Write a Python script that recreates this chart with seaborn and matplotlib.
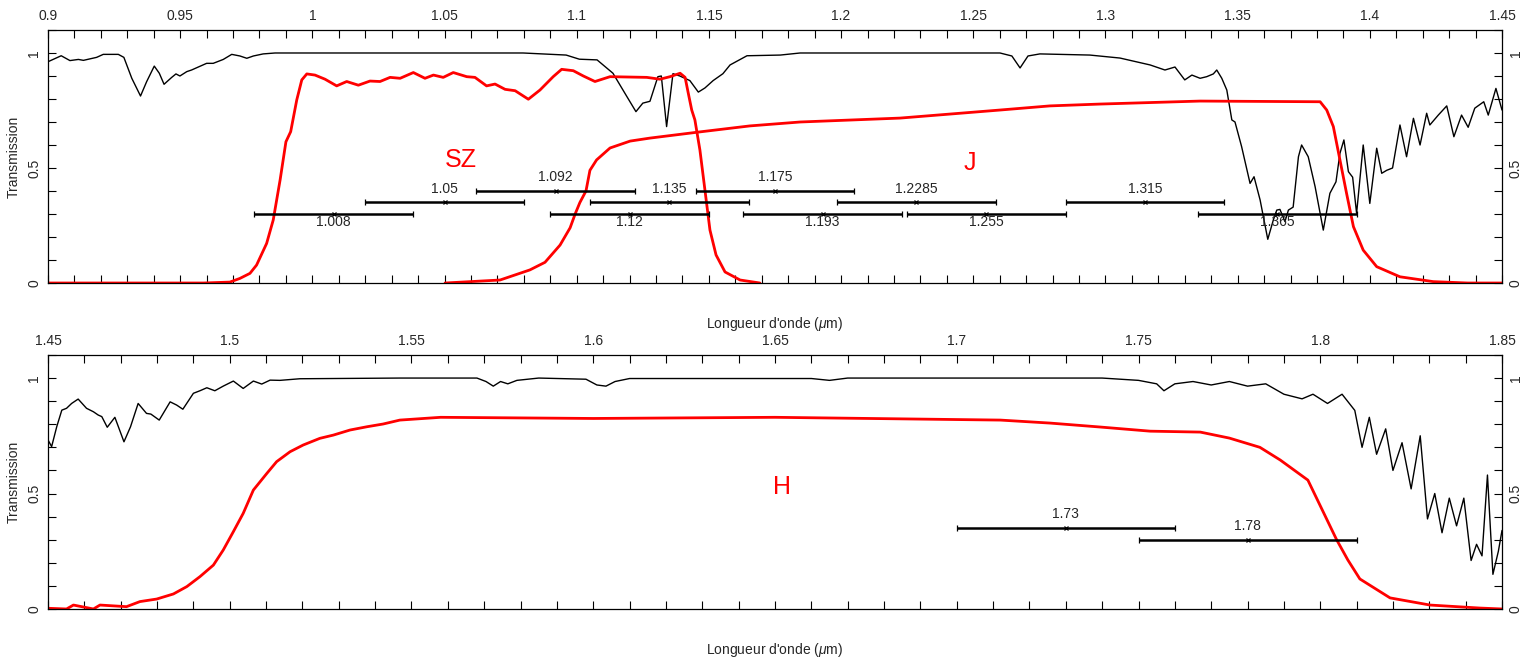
import numpy as np
import pandas as pd
import seaborn as sns
import matplotlib.pyplot as plt
from matplotlib.ticker import MultipleLocator, FuncFormatter

# Atmospheric transmission, top panel (0.9 - 1.45 um)
atm_top_wl = [0.9, 0.905, 0.9083, 0.9115, 0.9134, 0.9184, 0.9209, 0.9266, 0.9287, 0.9317,
              0.935, 0.9373, 0.9402, 0.9421, 0.9439, 0.9468, 0.9484, 0.9499, 0.9525, 0.9543,
              0.96, 0.9625, 0.9663, 0.9695, 0.9726, 0.9752, 0.9777, 0.9814, 0.9859, 1.0797,
              1.096, 1.101, 1.1077, 1.1137, 1.119, 1.1224, 1.125, 1.1277, 1.1307, 1.132,
              1.134, 1.1364, 1.139, 1.1428, 1.146, 1.1485, 1.1516, 1.1553, 1.158, 1.1644,
              1.177, 1.1845, 1.2601, 1.2646, 1.2677, 1.2707, 1.2752, 1.2941, 1.3055, 1.3169,
              1.3225, 1.3263, 1.33, 1.3327, 1.3358, 1.3383, 1.3408, 1.3421, 1.344, 1.3459,
              1.3478, 1.349, 1.3515, 1.3547, 1.3562, 1.3585, 1.3614, 1.3635, 1.3648, 1.366,
              1.3679, 1.3692, 1.371, 1.373, 1.3742, 1.3767, 1.3793, 1.3824, 1.3849, 1.3872,
              1.3887, 1.3902, 1.3919, 1.3935, 1.395, 1.3975, 1.4, 1.4026, 1.4045, 1.4064,
              1.4086, 1.4114, 1.4139, 1.4165, 1.419, 1.4215, 1.4227, 1.4259, 1.4291, 1.4318,
              1.4347, 1.4372, 1.4397, 1.4431, 1.4448, 1.4477, 1.45]
atm_top_tr = [0.962, 0.988, 0.967, 0.972, 0.968, 0.981, 0.994, 0.994, 0.981, 0.89,
              0.813, 0.875, 0.943, 0.912, 0.864, 0.894, 0.909, 0.9, 0.919, 0.926,
              0.955, 0.955, 0.972, 0.994, 0.987, 0.977, 0.987, 0.996, 1.0, 1.0,
              0.991, 0.973, 0.97, 0.912, 0.81, 0.745, 0.782, 0.79, 0.897, 0.9,
              0.68, 0.91, 0.9, 0.88, 0.83, 0.848, 0.88, 0.91, 0.948, 0.988,
              0.991, 1.0, 1.0, 0.987, 0.935, 0.987, 0.996, 0.991, 0.978, 0.948,
              0.926, 0.939, 0.883, 0.904, 0.89, 0.897, 0.909, 0.926, 0.89, 0.839,
              0.709, 0.70, 0.593, 0.433, 0.462, 0.361, 0.19, 0.274, 0.317, 0.32,
              0.267, 0.317, 0.33, 0.549, 0.6, 0.549, 0.419, 0.23, 0.39, 0.44,
              0.564, 0.622, 0.484, 0.46, 0.303, 0.6, 0.346, 0.586, 0.477, 0.49,
              0.5, 0.687, 0.549, 0.716, 0.6, 0.738, 0.687, 0.73, 0.77, 0.636,
              0.73, 0.677, 0.76, 0.788, 0.73, 0.846, 0.752]

# SZ filter
sz_wl = [0.9, 0.9588, 0.9688, 0.9726, 0.9764, 0.9789, 0.9827, 0.9852, 0.9878, 0.99,
         0.9918, 0.9941, 0.996, 0.9979, 1.001, 1.0048, 1.0092, 1.013, 1.0174, 1.0218,
         1.0256, 1.0294, 1.0332, 1.0382, 1.0426, 1.0458, 1.0495, 1.0533, 1.0584, 1.0615,
         1.0659, 1.0691, 1.0729, 1.0767, 1.0817, 1.0861, 1.0911, 1.0943, 1.0987, 1.1025,
         1.1069, 1.1126, 1.1265, 1.1315, 1.1353, 1.1391, 1.141, 1.1422, 1.1435, 1.1447,
         1.1466, 1.1485, 1.1504, 1.1527, 1.1561, 1.1618, 1.1693]
sz_tr = [0.0, 0.0, 0.004, 0.02, 0.042, 0.078, 0.172, 0.274, 0.448, 0.614,
         0.658, 0.796, 0.883, 0.909, 0.904, 0.886, 0.857, 0.876, 0.86, 0.878,
         0.876, 0.894, 0.89, 0.915, 0.89, 0.904, 0.894, 0.915, 0.897, 0.894,
         0.857, 0.865, 0.842, 0.836, 0.799, 0.839, 0.897, 0.929, 0.923, 0.9,
         0.876, 0.897, 0.894, 0.886, 0.897, 0.912, 0.894, 0.825, 0.752, 0.709,
         0.578, 0.404, 0.23, 0.122, 0.048, 0.013, 0.0]

# J filter
j_wl = [1.0502, 1.071, 1.0823, 1.088, 1.0937, 1.0975, 1.0994, 1.1012, 1.1035, 1.105,
        1.1075, 1.1126, 1.1202, 1.1277, 1.1466, 1.1655, 1.1845, 1.2223, 1.2601, 1.279,
        1.298, 1.3358, 1.3812, 1.3837, 1.3862, 1.3887, 1.3912, 1.3938, 1.3975, 1.4026,
        1.4114, 1.424, 1.437, 1.45]
j_tr = [0.0, 0.013, 0.057, 0.09, 0.165, 0.24, 0.30, 0.35, 0.40, 0.49,
        0.535, 0.587, 0.617, 0.63, 0.657, 0.683, 0.70, 0.717, 0.752, 0.77,
        0.778, 0.791, 0.788, 0.752, 0.68, 0.535, 0.39, 0.245, 0.143, 0.071,
        0.027, 0.006, 0.0, 0.0]

# Atmospheric transmission, bottom panel (1.45 - 1.85 um)
atm_bot_wl = [1.45, 1.451, 1.4524, 1.4538, 1.4551, 1.4565, 1.4583, 1.4606, 1.4625, 1.4638,
              1.4648, 1.4663, 1.4684, 1.4709, 1.4727, 1.4748, 1.4771, 1.4783, 1.4806, 1.4836,
              1.4854, 1.4871, 1.49, 1.4918, 1.4937, 1.4959, 1.4982, 1.501, 1.5037, 1.5065,
              1.5088, 1.5111, 1.5138, 1.5193, 1.5468, 1.568, 1.5705, 1.5725, 1.5745, 1.5765,
              1.579, 1.585, 1.598, 1.601, 1.6035, 1.606, 1.61, 1.66, 1.665, 1.67,
              1.74, 1.75, 1.755, 1.757, 1.76, 1.765, 1.77, 1.775, 1.78, 1.785,
              1.79, 1.795, 1.798, 1.802, 1.806, 1.8095, 1.8115, 1.8135, 1.8155, 1.818,
              1.82, 1.8225, 1.825, 1.8275, 1.8295, 1.8315, 1.8335, 1.8355, 1.8375, 1.8395,
              1.8415, 1.843, 1.8445, 1.846, 1.8475, 1.849, 1.85]
atm_bot_tr = [0.732, 0.703, 0.789, 0.861, 0.869, 0.89, 0.909, 0.869, 0.854, 0.84,
              0.833, 0.787, 0.83, 0.724, 0.789, 0.89, 0.847, 0.844, 0.818, 0.897,
              0.883, 0.865, 0.934, 0.945, 0.958, 0.945, 0.965, 0.987, 0.955, 0.987,
              0.974, 0.991, 0.99, 0.997, 1.0, 1.0, 0.985, 0.965, 0.985, 0.975,
              0.99, 1.0, 0.995, 0.97, 0.965, 0.985, 0.998, 0.998, 0.99, 1.0,
              1.0, 0.99, 0.975, 0.945, 0.975, 0.985, 0.97, 0.985, 0.965, 0.975,
              0.93, 0.91, 0.93, 0.89, 0.93, 0.86, 0.70, 0.83, 0.67, 0.78,
              0.60, 0.72, 0.52, 0.75, 0.39, 0.50, 0.33, 0.48, 0.36, 0.48,
              0.21, 0.28, 0.23, 0.58, 0.15, 0.25, 0.34]

# H filter
h_wl = [1.45, 1.4551, 1.457, 1.4625, 1.4643, 1.4716, 1.4753, 1.4799, 1.4845, 1.4882,
        1.4918, 1.4955, 1.4982, 1.501, 1.5037, 1.5065, 1.5102, 1.5129, 1.5166, 1.5202,
        1.5248, 1.5285, 1.5331, 1.5377, 1.5422, 1.5468, 1.558, 1.60, 1.65, 1.712,
        1.7257, 1.7394, 1.7532, 1.767, 1.775, 1.7834, 1.789, 1.7966, 1.8045, 1.8076,
        1.8109, 1.8192, 1.8302, 1.8439, 1.85]
h_tr = [0.003, 0.0, 0.017, 0.0, 0.017, 0.01, 0.032, 0.043, 0.065, 0.097,
        0.14, 0.19, 0.255, 0.335, 0.414, 0.515, 0.587, 0.638, 0.681, 0.71,
        0.739, 0.753, 0.775, 0.789, 0.801, 0.818, 0.83, 0.825, 0.83, 0.818,
        0.805, 0.788, 0.77, 0.766, 0.74, 0.70, 0.645, 0.558, 0.3, 0.212,
        0.13, 0.048, 0.017, 0.004, 0.0]

# Spectral windows (centre, height, label side)
win_top_center = [1.008, 1.05, 1.092, 1.12, 1.135, 1.175, 1.193, 1.2285, 1.255, 1.315, 1.365]
win_top_level = [0.3, 0.35, 0.4, 0.3, 0.35, 0.4, 0.3, 0.35, 0.3, 0.35, 0.3]
win_top_side = ['below', 'above', 'above', 'below', 'above', 'above', 'below', 'above', 'below', 'above', 'below']
win_bot_center = [1.73, 1.78]
win_bot_level = [0.35, 0.3]
win_bot_side = ['above', 'above']
win_halfwidth = 0.03

sns.set_style('ticks')
plt.rcParams['font.family'] = ['Liberation Sans', 'DejaVu Sans']
plt.rcParams['mathtext.fontset'] = 'custom'
plt.rcParams['mathtext.it'] = 'Liberation Sans:italic'
plt.rcParams['mathtext.rm'] = 'Liberation Sans'

fig = plt.figure(figsize=(15.27, 6.62), dpi=100)
ax_top = fig.add_axes([0.03143, 0.5725, 0.9522, 0.3822])
ax_bot = fig.add_axes([0.03143, 0.0801, 0.9522, 0.3837])

fmt = FuncFormatter(lambda v, p: f'{round(v, 4):g}')


def style_axis(ax, xmin, xmax):
    ax.set_xlim(xmin, xmax)
    ax.set_ylim(0, 1.1)
    ax.xaxis.set_major_locator(MultipleLocator(0.05))
    ax.xaxis.set_minor_locator(MultipleLocator(0.01))
    ax.yaxis.set_major_locator(MultipleLocator(0.5))
    ax.yaxis.set_minor_locator(MultipleLocator(0.1))
    ax.xaxis.set_major_formatter(fmt)
    ax.yaxis.set_major_formatter(fmt)
    ax.tick_params(which='both', direction='in', top=True, right=True, bottom=True, left=True,
                   labeltop=True, labelbottom=False, labelleft=True, labelright=True,
                   length=6, width=0.8, color='black', labelsize=10, pad=5)
    ax.tick_params(axis='y', labelrotation=90)
    for t in ax.get_yticklabels():
        t.set_verticalalignment('center')
    for s in ax.spines.values():
        s.set_linewidth(0.9)
        s.set_color('black')
    ax.set_ylabel('Transmission', fontsize=10)
    ax.yaxis.set_label_coords(-0.0186, 0.5)
    ax.set_xlabel(r"Longueur d'onde ($\mu$m)", fontsize=10)


def draw_windows(ax, centers, levels, sides):
    ax.errorbar(centers, levels, xerr=win_halfwidth, fmt='x', color='black', ecolor='black',
                elinewidth=1.8, capsize=2.5, capthick=1.5, markersize=3.5, mew=0.9, zorder=4)
    for c, lv, sd in zip(centers, levels, sides):
        if sd == 'above':
            ax.annotate(f'{c:g}', (c, lv), xytext=(0, 5), textcoords='offset points',
                        ha='center', va='bottom', fontsize=10)
        else:
            ax.annotate(f'{c:g}', (c, lv), xytext=(0, -1), textcoords='offset points',
                        ha='center', va='top', fontsize=10)


# Top panel
sns.lineplot(x=atm_top_wl, y=atm_top_tr, ax=ax_top, color='black', lw=1.0, sort=False, estimator=None)
sns.lineplot(x=sz_wl, y=sz_tr, ax=ax_top, color='red', lw=2.0, sort=False, estimator=None)
sns.lineplot(x=j_wl, y=j_tr, ax=ax_top, color='red', lw=2.0, sort=False, estimator=None)
draw_windows(ax_top, win_top_center, win_top_level, win_top_side)
ax_top.text(1.0562, 0.535, 'SZ', color='red', fontsize=18, ha='center', va='center')
ax_top.text(1.2488, 0.52, 'J', color='red', fontsize=18, ha='center', va='center')
style_axis(ax_top, 0.9, 1.45)
ax_top.xaxis.set_label_coords(0.5, -0.125)

# Bottom panel
sns.lineplot(x=atm_bot_wl, y=atm_bot_tr, ax=ax_bot, color='black', lw=1.0, sort=False, estimator=None)
sns.lineplot(x=h_wl, y=h_tr, ax=ax_bot, color='red', lw=2.0, sort=False, estimator=None)
draw_windows(ax_bot, win_bot_center, win_bot_level, win_bot_side)
ax_bot.text(1.652, 0.528, 'H', color='red', fontsize=18, ha='center', va='center')
style_axis(ax_bot, 1.45, 1.85)
ax_bot.xaxis.set_label_coords(0.5, -0.125)

fig.savefig('out.png', dpi=100)
